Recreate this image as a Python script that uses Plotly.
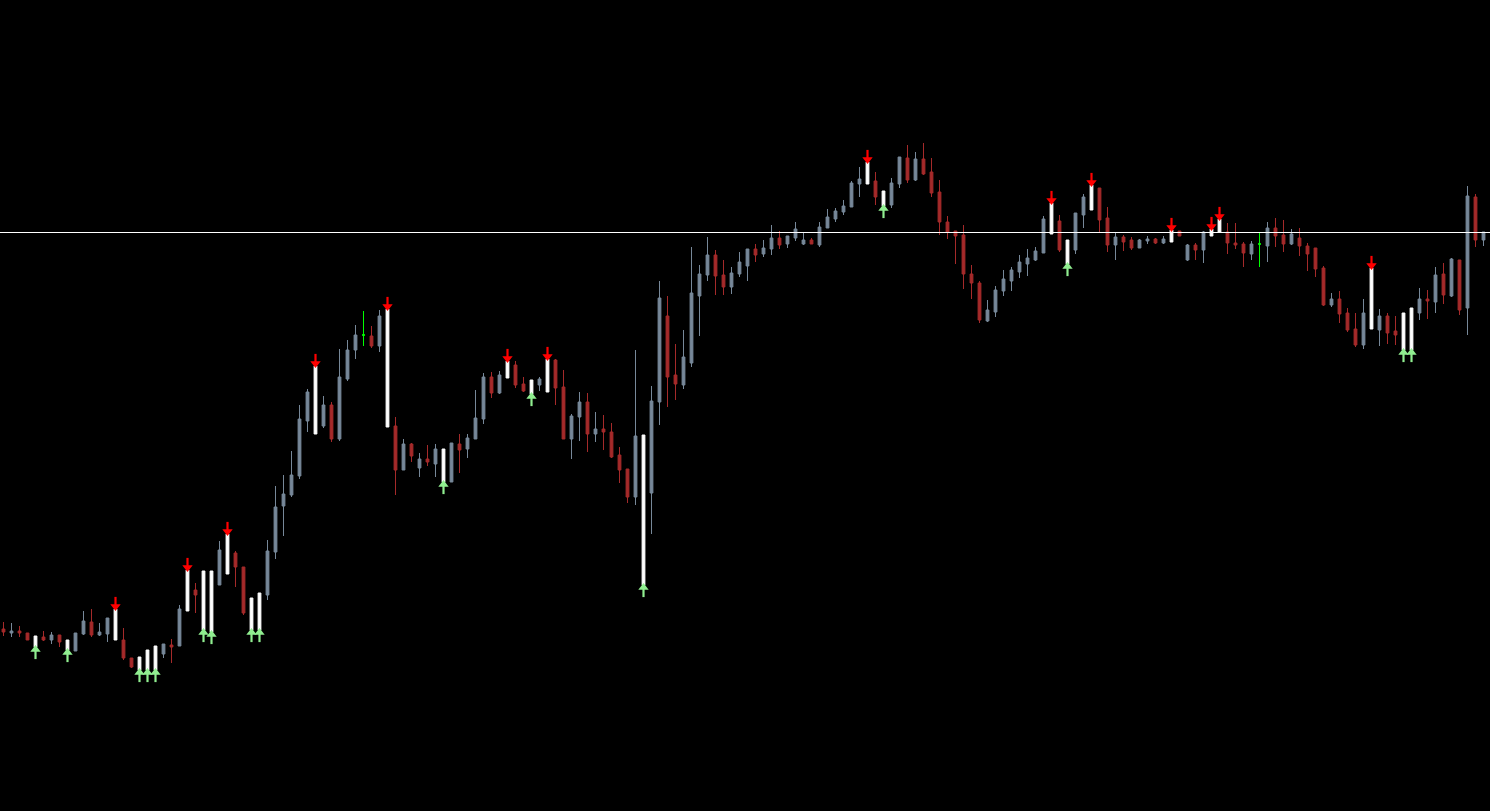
import plotly.graph_objects as go

# Per-bar OHLC values (price units), bars 0..185
opens = [182,178,180,178,175,174,171,176,171,160,177,189,176,177,171,171,153,154,161,165,
         157,166,165,200,221,240,240,226,237,258,244,213,218,216,259,305,316,335,390,377,
         385,406,372,432,461,476,475,465,384,385,341,367,343,352,347,362,329,367,362,372,
         392,434,418,433,446,427,431,426,419,451,424,372,394,409,377,382,379,356,342,314,
         376,318,409,495,436,426,448,515,536,556,536,524,537,545,562,557,562,573,567,573,
         567,571,566,583,592,599,604,627,627,630,620,606,627,653,631,652,639,619,589,580,
         576,537,528,490,499,520,530,539,547,551,558,577,590,571,561,596,601,623,593,566,
         574,571,563,570,572,568,569,580,551,566,561,575,579,579,568,567,557,567,565,583,
         576,567,573,565,563,543,506,512,498,482,466,482,481,495,480,498,503,498,512,509,
         537,515,551,503,614,571]
highs = [189,188,185,178,175,180,179,176,171,178,200,202,188,193,202,183,153,154,161,165,
         167,172,206,241,228,240,240,270,277,260,244,213,218,271,325,336,360,406,422,445,
         415,409,462,471,486,500,485,501,502,394,372,368,358,366,367,362,368,377,377,421,
         438,439,440,450,450,434,431,434,452,452,441,397,419,418,399,396,388,364,342,461,
         376,425,530,515,467,481,564,546,574,561,551,544,559,562,567,571,586,580,575,589,
         578,573,589,602,603,611,630,644,649,639,620,633,654,666,659,668,653,631,595,580,
         586,546,530,511,525,541,544,556,562,564,595,608,596,571,598,617,626,623,604,579,
         576,574,572,575,573,575,581,580,567,568,580,582,592,588,588,569,570,578,589,593,
         591,582,583,568,563,545,518,520,503,498,512,543,502,498,495,498,503,523,521,544,
         548,553,551,625,617,579]
lows = [175,174,174,171,164,170,167,164,161,160,176,174,175,169,171,151,143,141,141,141,
        153,148,165,200,198,181,179,226,237,224,196,181,181,211,252,275,314,332,379,377,
        383,369,370,430,452,465,463,459,384,316,341,349,334,345,334,329,329,338,353,372,
        387,413,417,433,423,419,417,420,419,406,372,352,370,359,369,361,353,328,308,306,
        226,277,386,404,411,422,444,475,530,516,516,517,534,530,549,554,556,562,563,570,
        566,567,564,583,589,596,604,614,627,606,605,603,623,628,630,636,614,576,572,547,
        522,512,488,489,494,515,520,533,535,550,558,577,559,547,557,583,601,578,559,551,
        560,561,563,567,567,567,569,575,550,551,548,575,579,557,562,544,551,544,549,564,
        559,566,555,540,534,505,504,488,479,464,462,482,465,467,466,461,461,491,492,498,
        507,514,496,476,564,565]
closes = [179,180,178,171,164,171,176,169,161,178,190,176,179,193,202,153,144,141,141,141,
          167,164,202,241,216,181,179,261,277,244,198,181,181,260,304,317,336,392,419,445,
          406,372,434,461,476,476,465,495,502,341,367,355,352,349,362,329,368,361,373,393,
          434,418,436,450,426,420,417,432,452,423,372,395,409,377,382,379,354,341,314,375,
          226,410,513,434,427,454,518,537,556,535,524,538,549,562,556,563,573,566,575,582,
          571,567,584,594,600,605,628,632,649,614,605,628,654,631,652,637,618,589,579,575,
          537,528,491,501,521,532,541,549,553,560,592,608,561,547,598,614,626,591,566,574,
          569,563,571,572,568,572,581,575,566,561,579,582,592,568,566,558,567,567,583,575,
          567,577,565,557,542,506,512,497,481,466,498,543,495,478,476,461,461,512,510,536,
          516,552,501,615,571,579]

# Signal bars (drawn as white candles with arrows)
sell_signals = [14, 23, 28, 39, 48, 63, 68, 108, 131, 136, 146, 151, 152, 171]
buy_signals = [4, 8, 17, 18, 19, 25, 26, 31, 32, 55, 66, 80, 110, 133, 175, 176]
doji_bars = [45, 157]
level_price = 578.5

n = len(opens)
bars = list(range(n))
signal_set = set(sell_signals) | set(buy_signals)
normal = [i for i in bars if i not in signal_set and i not in doji_bars]
white = sorted(signal_set)


def pick(arr, idx):
    return [arr[i] for i in idx]


def candles(idx, inc, dec):
    return go.Candlestick(
        x=idx, open=pick(opens, idx), high=pick(highs, idx),
        low=pick(lows, idx), close=pick(closes, idx),
        increasing=dict(line=dict(color=inc, width=1), fillcolor=inc),
        decreasing=dict(line=dict(color=dec, width=1), fillcolor=dec),
        whiskerwidth=0, hoverinfo="skip", showlegend=False)


def arrow(idx, base, sign, color):
    # shaft + head drawn as markers placed relative to the bar's high/low
    head_y = [base[i] + sign * 2.5 for i in idx]
    shaft_y = [base[i] + sign * 6.5 for i in idx]
    head_sym = "triangle-down" if sign > 0 else "triangle-up"
    return [
        go.Scatter(x=idx, y=shaft_y, mode="markers",
                   marker=dict(symbol="line-ns", size=8, line=dict(color=color, width=2.2)),
                   hoverinfo="skip", showlegend=False, cliponaxis=False),
        go.Scatter(x=idx, y=head_y, mode="markers",
                   marker=dict(symbol=head_sym, size=9, color=color, line=dict(width=0)),
                   hoverinfo="skip", showlegend=False, cliponaxis=False),
    ]


fig = go.Figure()
fig.add_trace(candles(normal, "#778899", "#A52A2A"))
fig.add_trace(candles(white, "#FFFFFF", "#FFFFFF"))
fig.add_trace(candles(doji_bars, "#00FF00", "#00FF00"))
for tr in arrow(sell_signals, highs, 1, "#FF0000"):
    fig.add_trace(tr)
for tr in arrow(buy_signals, lows, -1, "#90EE90"):
    fig.add_trace(tr)

fig.add_shape(type="line", xref="paper", x0=0, x1=1, yref="y", y0=level_price, y1=level_price,
              line=dict(color="#FFFFFF", width=1), layer="above")

fig.update_layout(
    width=1490, height=811, margin=dict(l=0, r=0, t=0, b=0),
    paper_bgcolor="black", plot_bgcolor="black",
    boxgap=0.5,
    xaxis=dict(visible=False, range=[-0.4375, 185.8125], rangeslider=dict(visible=False), fixedrange=True),
    yaxis=dict(visible=False, range=[0, 811], fixedrange=True),
    showlegend=False,
)

fig.write_html("out.html", config={"displayModeBar": False},
               post_script="document.body.style.margin='0';document.body.style.background='black';")
